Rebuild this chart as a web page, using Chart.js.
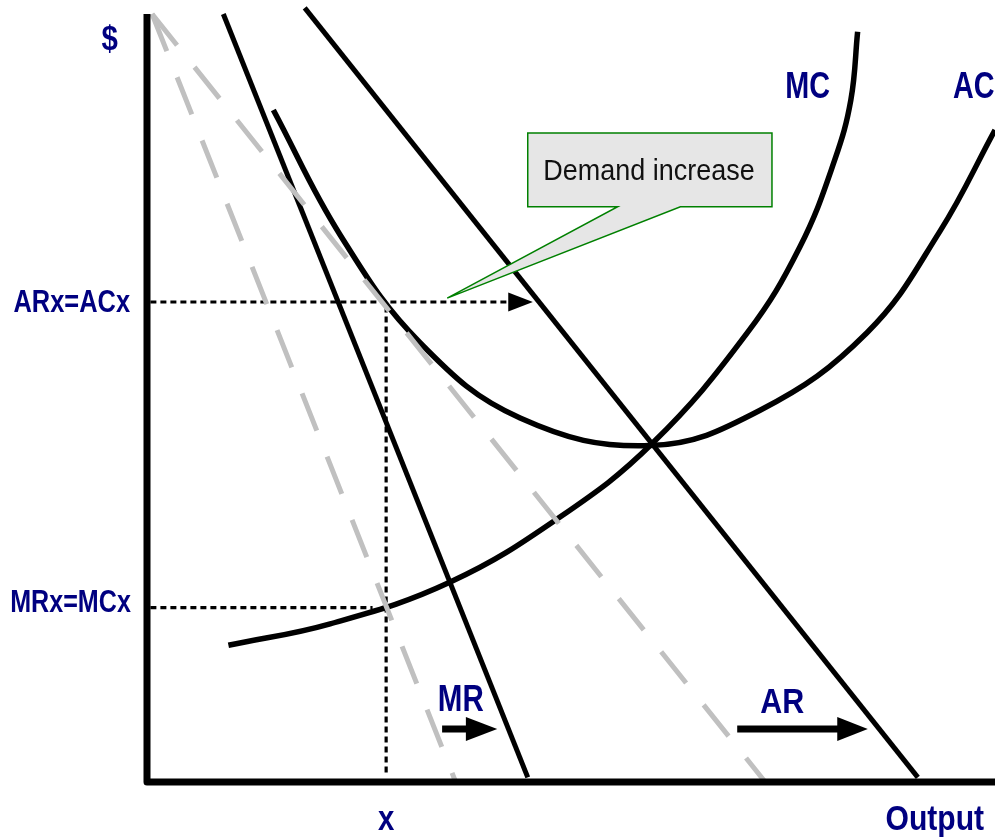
<!DOCTYPE html>
<html>
<head>
<meta charset="utf-8">
<script src="https://cdn.jsdelivr.net/npm/chart.js@4/dist/chart.umd.min.js"></script>
<style>
  html, body { margin: 0; padding: 0; background: #ffffff; }
  canvas { display: block; }
</style>
</head>
<body>
<canvas id="chart" width="995" height="837"></canvas>
<script>
// ----- CURVE DATA (output on x, $ on y, both 0-100) -----

// original demand (grey, dashed)
const oldArX = [0.6, 72.9];
const oldArY = [100, 0];
const oldMrX = [0.6, 36.4];
const oldMrY = [100, 0];

// increased demand (black)
const newMrX = [9.0, 44.9];
const newMrY = [100, 0.6];
const newArX = [18.6, 90.9];
const newArY = [100.8, 0.6];

// average cost
const acX = [14.9, 22.8, 32.2, 44.0, 59.3, 72.3, 84.9, 93.5, 100];
const acY = [87.5, 71.2, 57.2, 47.4, 43.8, 48.4, 58.5, 71.7, 84.9];

// marginal cost
const mcX = [9.6, 21.6, 35.7, 48.7, 59.6, 70.8, 77.0, 81.1, 83.0, 83.8];
const mcY = [17.8, 20.6, 26.0, 34.5, 44.1, 58.5, 69.7, 81.0, 88.8, 97.7];

// profit-max point at output x
const outputX = 28.2;
const arAcLevel = 62.5;
const mrMcLevel = 22.7;

// ----- TEXT -----

const axisLabels = ["$", "Output", "x"];
const levelLabels = ["ARx=ACx", "MRx=MCx"];
const curveLabels = ["MC", "AC", "MR", "AR"];
const calloutText = "Demand increase";

const NAVY = "#000080";
const FONT = '"Liberation Sans", Arial, sans-serif';

function pts(xs, ys) {
  return xs.map((x, i) => ({ x: x, y: ys[i] }));
}

function lineSet(xs, ys, color, width, dash, tension) {
  return {
    data: pts(xs, ys),
    showLine: true,
    borderColor: color,
    borderWidth: width,
    borderDash: dash || [],
    pointRadius: 0,
    fill: false,
    clip: false,
    tension: tension || 0,
  };
}

const datasets = [
  lineSet(oldArX, oldArY, "#c0c0c0", 5, [40, 28]),
  lineSet(oldMrX, oldMrY, "#c0c0c0", 5, [40, 28]),
  lineSet([0.4, 42.6], [arAcLevel, arAcLevel], "#000000", 3.2, [6, 4]),
  lineSet([0.4, 26.6], [mrMcLevel, mrMcLevel], "#000000", 3.2, [6, 4]),
  lineSet([outputX, outputX], [arAcLevel - 0.6, 1.2], "#000000", 3.2, [6, 4]),
  lineSet(newMrX, newMrY, "#000000", 5),
  lineSet(newArX, newArY, "#000000", 5),
  lineSet(acX, acY, "#000000", 5.5, null, 0.4),
  lineSet(mcX, mcY, "#000000", 5.5, null, 0.4),
];

// ----- DRAW HELPERS -----

function drawText(ctx, text, px, py, size, bold, align, sx, color) {
  ctx.save();
  ctx.font = (bold ? "bold " : "") + size + "px " + FONT;
  ctx.fillStyle = color;
  ctx.textBaseline = "alphabetic";
  ctx.textAlign = "left";
  const w = ctx.measureText(text).width * sx;
  let left = px;
  if (align === "center") left = px - w / 2;
  if (align === "right") left = px - w;
  ctx.translate(left, py);
  ctx.scale(sx, 1);
  ctx.fillText(text, 0, 0);
  ctx.restore();
}

function arrowHead(ctx, baseX, tipX, y, half) {
  ctx.beginPath();
  ctx.moveTo(baseX, y - half);
  ctx.lineTo(tipX, y);
  ctx.lineTo(baseX, y + half);
  ctx.closePath();
  ctx.fill();
}

// ----- ANNOTATION PLUGIN -----

const diagramPlugin = {
  id: "diagram",
  afterDatasetsDraw(chart) {
    const ctx = chart.ctx;
    const sx = chart.scales.x;
    const sy = chart.scales.y;
    const X = (v) => sx.getPixelForValue(v);
    const Y = (v) => sy.getPixelForValue(v);

    // callout box
    ctx.save();
    ctx.beginPath();
    ctx.moveTo(X(44.9), Y(84.5));
    ctx.lineTo(X(73.7), Y(84.5));
    ctx.lineTo(X(73.7), Y(74.9));
    ctx.lineTo(X(62.9), Y(74.9));
    ctx.lineTo(X(35.4), Y(63.0));
    ctx.lineTo(X(55.5), Y(74.9));
    ctx.lineTo(X(44.9), Y(74.9));
    ctx.closePath();
    ctx.fillStyle = "#e6e6e6";
    ctx.fill();
    ctx.strokeStyle = "#008000";
    ctx.lineWidth = 1.5;
    ctx.stroke();
    ctx.restore();
    drawText(ctx, calloutText, X(59.2), Y(78.4), 29, false, "center", 0.93, "#111111");

    // arrow heads
    ctx.save();
    ctx.fillStyle = "#000000";
    arrowHead(ctx, X(42.6), X(45.5), Y(arAcLevel), 9.5);

    // MR shift arrow
    ctx.fillRect(X(34.8), Y(6.9) - 3.5, X(37.7) - X(34.8), 7);
    arrowHead(ctx, X(37.6), X(41.3), Y(6.9), 12);

    // AR shift arrow
    ctx.fillRect(X(69.6), Y(6.9) - 3.5, X(81.5) - X(69.6), 7);
    arrowHead(ctx, X(81.4), X(85.0), Y(6.9), 12);

    // axes
    ctx.beginPath();
    ctx.moveTo(X(0), Y(100));
    ctx.lineTo(X(0), Y(0));
    ctx.lineTo(X(100) + 5, Y(0));
    ctx.lineWidth = 7;
    ctx.lineJoin = "round";
    ctx.strokeStyle = "#000000";
    ctx.stroke();
    ctx.restore();

    // axis labels
    drawText(ctx, axisLabels[0], X(-4.4), Y(95.3), 35, true, "center", 0.84, NAVY);
    drawText(ctx, axisLabels[1], X(92.9), Y(-6.25), 35, true, "center", 0.86, NAVY);
    drawText(ctx, axisLabels[2], X(outputX), Y(-6.25), 35, true, "center", 0.84, NAVY);

    // level labels
    drawText(ctx, levelLabels[0], X(-2.0), Y(61.2), 31, true, "right", 0.82, NAVY);
    drawText(ctx, levelLabels[1], X(-1.9), Y(22.1), 31, true, "right", 0.81, NAVY);

    // curve labels
    drawText(ctx, curveLabels[0], X(77.9), Y(89.1), 36, true, "center", 0.8, NAVY);
    drawText(ctx, curveLabels[1], X(95.05), Y(89.1), 36, true, "left", 0.8, NAVY);
    drawText(ctx, curveLabels[2], X(37.0), Y(9.2), 36, true, "center", 0.82, NAVY);
    drawText(ctx, curveLabels[3], X(74.9), Y(9.0), 35, true, "center", 0.87, NAVY);
  },
};

// ----- CHART -----

const chart = new Chart(document.getElementById("chart").getContext("2d"), {
  type: "scatter",
  data: { datasets: datasets },
  options: {
    responsive: false,
    animation: false,
    devicePixelRatio: 1,
    layout: { padding: { left: 147, right: 0, top: 14, bottom: 55 } },
    scales: {
      x: { type: "linear", min: 0, max: 100, display: false },
      y: { type: "linear", min: 0, max: 100, display: false },
    },
    plugins: {
      legend: { display: false },
      tooltip: { enabled: false },
    },
  },
  plugins: [diagramPlugin],
});
</script>
</body>
</html>
